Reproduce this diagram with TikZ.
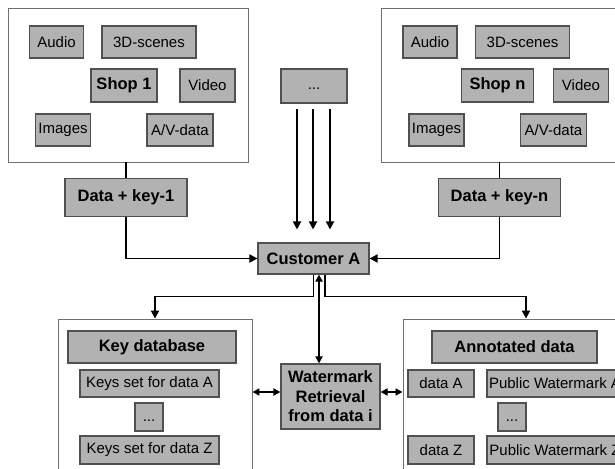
\documentclass[tikz,border=0pt]{standalone}
\usepackage{fontspec}
\setmainfont{Liberation Sans}
\usetikzlibrary{arrows.meta}

\definecolor{boxgray}{RGB}{178,178,178}
\definecolor{edgegray}{RGB}{80,80,80}
\definecolor{framegray}{RGB}{112,112,112}

\begin{document}
\begin{tikzpicture}[
  x=1pt, y=-1pt,
  sz/.style 2 args={minimum width=#1pt, minimum height=#2pt},
  frame/.style={draw=framegray, line width=0.9pt, fill=white, inner sep=0pt},
  item/.style={draw=edgegray, line width=1.1pt, fill=boxgray, inner sep=0pt,
    font=\fontsize{15}{18}\selectfont},
  head/.style={item, align=center, font=\bfseries\fontsize{16.5}{19.5}\selectfont},
  gap/.style={item, text height=11pt, text depth=3pt},
  link/.style={line width=1.8pt},
  arr/.style={link, -{Triangle[length=8pt,width=8pt]}},
  dbl/.style={link, {Triangle[length=7pt,width=7pt]}-{Triangle[length=7pt,width=7pt]}}
]
\useasboundingbox (0,0) rectangle (615,468);
\clip (0,0) rectangle (615,468);

\node[head, sz={111}{31}] (cust) at (313.5,258.5) {Customer A};

% the shops
\foreach \s/\dx/\w in {1/0/66, n/373.5/72}{
  \node[frame, sz={240}{154}] (store\s) at (128+\dx,85) {};
  \node[item, sz={54}{32}] (audio\s) at (56.5+\dx,42) {Audio};
  \node[item, sz={94}{32}] (scenes\s) at (149+\dx,42) {3D-scenes};
  \node[head, sz={\w}{33}] (shop\s) at (124+\dx,85.5) {Shop \s};
  \node[item, sz={55}{33}] (video\s) at (207.5+\dx,85.5) {Video};
  \node[item, sz={55}{32}] (images\s) at (63+\dx,130) {Images};
  \node[item, sz={66}{32}] (av\s) at (180+\dx,130) {A/V-data};
  \node[head, sz={122}{38}] (data\s) at (126+\dx,197.5) {Data + key-\s};
  \draw[link] (data\s.north |- store\s.south) -- (data\s.north);
  \draw[arr] (data\s.south) |- (cust);
}

\node[gap, sz={66}{34}] (more) at (314,86) {...};
\foreach \dx in {-17,-1,16}
  \draw[arr, shorten <=5pt] ([xshift=\dx pt]more.south)
    -- ([xshift=\dx pt, yshift=13pt]more.south |- cust.north);

% key database
\node[frame, sz={194}{156}] (keys) at (155,397) {};
\node[head, sz={168}{32}] (keyhead) at (152,347) {Key database};
\node[item, sz={139}{27}] (keysA) at (149.5,383.5) {Keys set for data A};
\node[gap, sz={28}{28}] (keysdots) at (149,417) {...};
\node[item, sz={139}{28}] (keysZ) at (149.5,450) {Keys set for data Z};

\node[head, sz={99}{65}] (wm) at (330.5,396.5) {Watermark\\Retrieval\\from data i};

% annotated data
\node[frame, sz={246}{156}] (annot) at (526,397) {};
\node[head, sz={165}{32}] (annothead) at (514.5,347) {Annotated data};
\node[item, sz={66}{27}] (dataA) at (441,383.5) {data A};
\node[item, sz={136}{27}] (pubA) at (555,383.5) {Public Watermark A};
\node[gap, sz={28}{28}] (annotdots) at (512,417) {...};
\node[item, sz={66}{28}] (dataZ) at (441,450) {data Z};
\node[item, sz={136}{28}] (pubZ) at (555,450) {Public Watermark Z};

\draw[arr] (cust.south) -- ++(0,22) -| (keys.north);
\draw[arr] ([xshift=11.5pt]cust.south) -- ++(0,22) -| (annot.north);
\draw[dbl] ([xshift=5.5pt]cust.south) -- ([xshift=5.5pt]cust.south |- wm.north);
\draw[dbl] ([yshift=4.5pt]wm.west) -- ([yshift=4.5pt]wm.west -| keys.east);
\draw[dbl] ([yshift=4.5pt]wm.east) -- ([yshift=4.5pt]wm.east -| annot.west);
\end{tikzpicture}
\end{document}
